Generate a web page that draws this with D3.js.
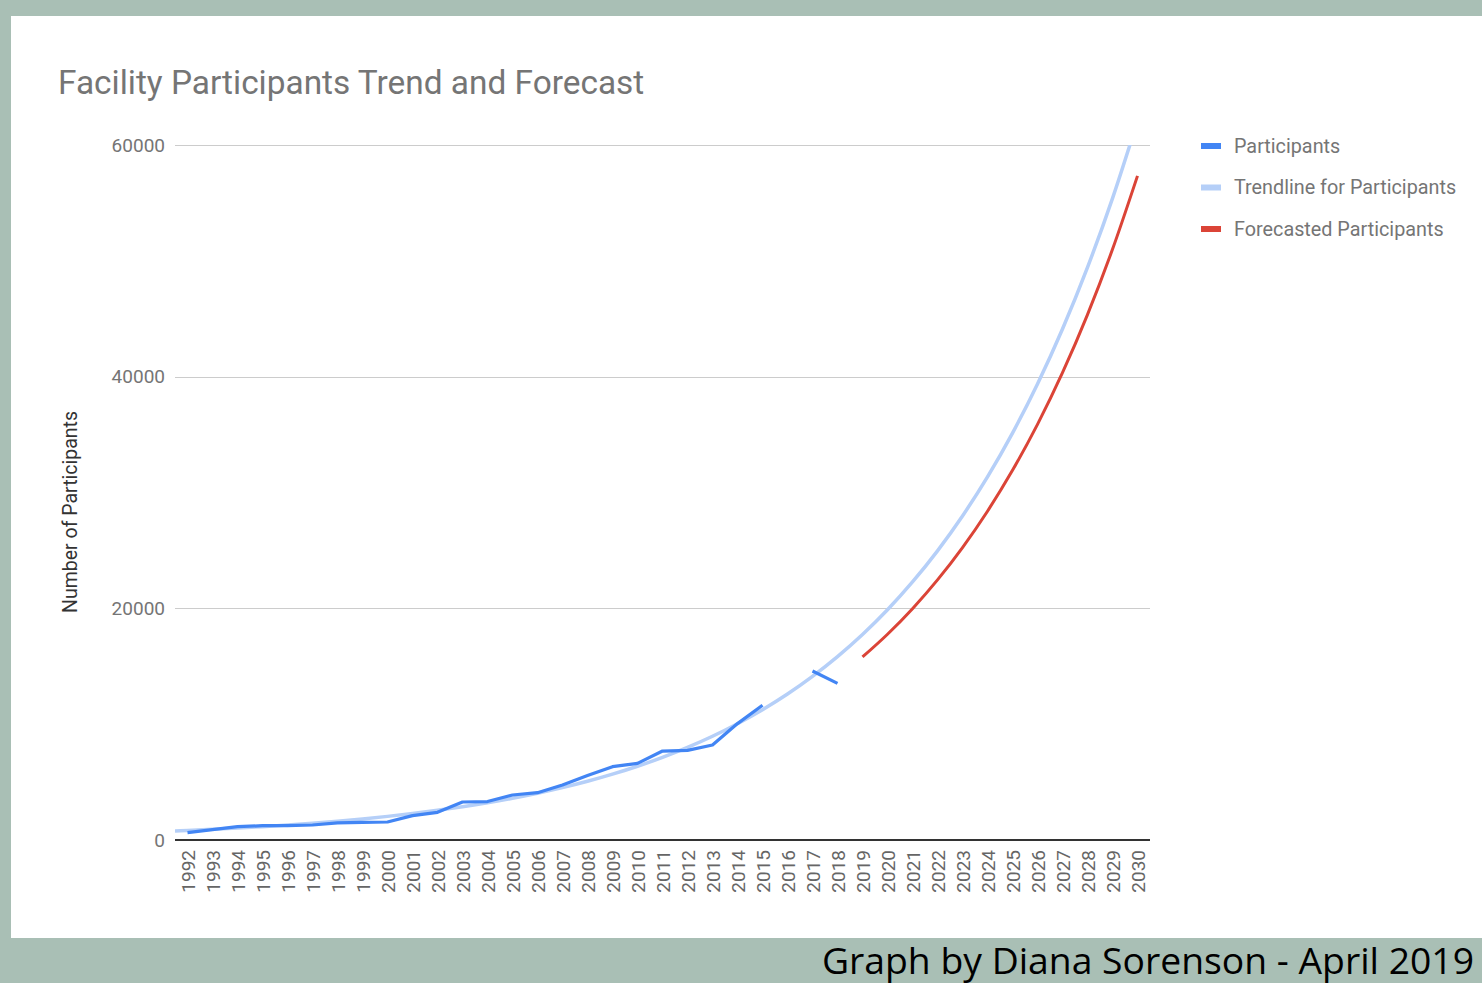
<!DOCTYPE html>
<html><head><meta charset="utf-8">
<script src="https://cdn.jsdelivr.net/npm/d3@7"></script>
<style>html,body{margin:0;padding:0;background:#a9bfb5;}svg{display:block}</style>
</head><body>
<svg id="c" width="1482" height="983"></svg>
<script>
const years = d3.range(1992, 2031);
const yTicks = [0, 20000, 40000, 60000];
const partYears = [1992,1993,1994,1995,1996,1997,1998,1999,2000,2001,2002,2003,2004,2005,2006,2007,2008,2009,2010,2011,2012,2013,2014,2015,2016,2017,2018];
const participants = [630,890,1150,1235,1245,1295,1480,1525,1555,2100,2390,3280,3320,3885,4085,4750,5560,6330,6620,7680,7740,8200,10050,11630,null,14590,13525];
const trendYears = [1991.5,1992,1993,1994,1995,1996,1997,1998,1999,2000,2001,2002,2003,2004,2005,2006,2007,2008,2009,2010,2011,2012,2013,2014,2015,2016,2017,2018,2019,2020,2021,2022,2023,2024,2025,2026,2027,2028,2029,2030];
const trend = [775,820,919,1030,1154,1293,1449,1624,1820,2039,2285,2560,2869,3215,3603,4038,4525,5070,5682,6367,7135,7995,8959,10040,11250,12607,14128,15832,17741,19880,22278,24965,27975,31349,35130,39367,44114,49435,55396,62077];
const forecastYears = [2019,2020,2021,2022,2023,2024,2025,2026,2027,2028,2029,2030];
const forecast = [15800,17765,19973,22455,25247,28385,31914,35882,40342,45357,50996,57336];
const seriesNames = ["Participants","Trendline for Participants","Forecasted Participants"];
const seriesColors = ["#4285f4","#b5cff8","#db4437"];

const svg = d3.select("#c");
svg.append("rect").attr("x",11).attr("y",16).attr("width",1471).attr("height",922).attr("fill","#fff");

const L=175, R=1150, T=145, B=840;
const x = d3.scaleLinear().domain([1991.5, 2030.5]).range([L, R]);
const y = d3.scaleLinear().domain([0, 60000]).range([B, T]);

svg.append("defs").append("clipPath").attr("id","clip")
  .append("rect").attr("x",L).attr("y",T).attr("width",R-L).attr("height",B-T);

// gridlines
const gy = svg.append("g").attr("transform",`translate(${L},0)`)
  .call(d3.axisLeft(y).tickValues(yTicks).tickSize(-(R-L)).tickPadding(10).tickFormat(d3.format("d")));
gy.select(".domain").remove();
gy.selectAll(".tick line").attr("stroke","#cccccc").attr("stroke-width",1).attr("shape-rendering","crispEdges");
gy.selectAll(".tick text").attr("fill","#757575").attr("font-family","Roboto").attr("font-size",19);

// x axis
const gx = svg.append("g").attr("transform",`translate(0,${B})`)
  .call(d3.axisBottom(x).tickValues(years).tickSize(0).tickFormat(d3.format("d")));
gx.select(".domain").remove();
gx.selectAll(".tick text").attr("fill","#666").attr("font-family","Roboto").attr("font-size",19)
  .attr("transform","rotate(-90)").attr("text-anchor","end").attr("x",-10).attr("y",0).attr("dy","0.35em");

const plot = svg.append("g").attr("clip-path","url(#clip)");

plot.append("path").datum(trendYears.map((t,i)=>[t,trend[i]]))
  .attr("d", d3.line().x(d=>x(d[0])).y(d=>y(d[1])).curve(d3.curveMonotoneX))
  .attr("fill","none").attr("stroke",seriesColors[1]).attr("stroke-width",3.5);
plot.append("path").datum(partYears.map((t,i)=>[t,participants[i]]))
  .attr("d", d3.line().x(d=>x(d[0])).y(d=>y(d[1])).defined(d=>d[1]!=null))
  .attr("fill","none").attr("stroke",seriesColors[0]).attr("stroke-width",3.2).attr("stroke-linejoin","round");
plot.append("path").datum(forecastYears.map((t,i)=>[t,forecast[i]]))
  .attr("d", d3.line().x(d=>x(d[0])).y(d=>y(d[1])).curve(d3.curveMonotoneX))
  .attr("fill","none").attr("stroke",seriesColors[2]).attr("stroke-width",3);

// baseline
svg.append("line").attr("x1",L).attr("x2",R).attr("y1",y(0)).attr("y2",y(0)).attr("stroke","#333").attr("stroke-width",2);

// title
svg.append("text").attr("x",58).attr("y",94).text("Facility Participants Trend and Forecast")
  .attr("font-family","Roboto").attr("font-size",33.4).attr("fill","#757575");

// y label
svg.append("text").attr("transform","translate(77,512) rotate(-90)").attr("text-anchor","middle")
  .text("Number of Participants").attr("font-family","Roboto").attr("font-size",19.5).attr("fill","#333");

// legend
const lg = svg.append("g");
seriesNames.forEach((n,i)=>{
  const yy = 146 + i*41.5;
  lg.append("rect").attr("x",1201).attr("y",yy-3).attr("width",20).attr("height",6).attr("fill",seriesColors[i]);
  lg.append("text").attr("x",1234).attr("y",yy).attr("dy","0.35em").text(n)
    .attr("font-family","Roboto").attr("font-size",19.8).attr("fill","#757575");
});

// credit
svg.append("text").attr("x",1474).attr("y",974).attr("text-anchor","end").text("Graph by Diana Sorenson - April 2019")
  .attr("font-family","Open Sans").attr("font-size",37.3).attr("fill","#000");
</script>
</body></html>
